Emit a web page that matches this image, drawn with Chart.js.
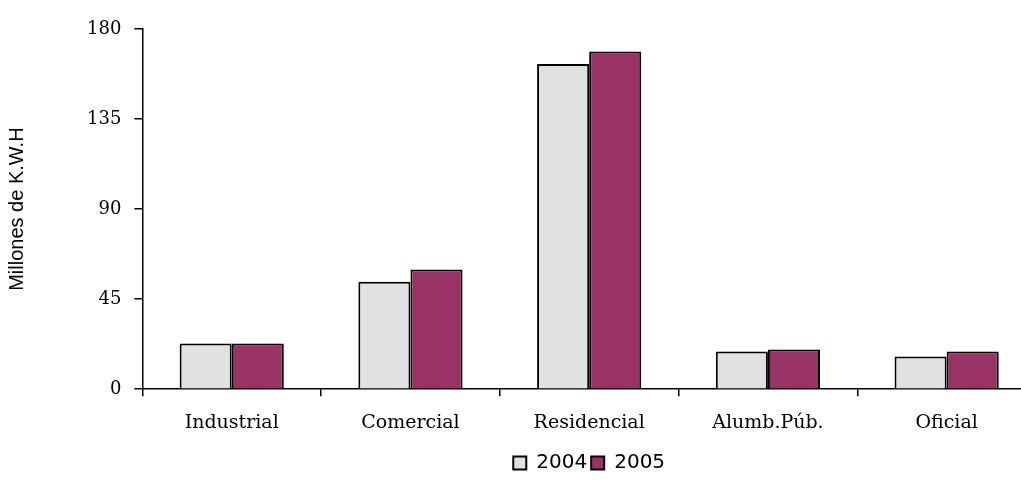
<!DOCTYPE html>
<html>
<head>
<meta charset="utf-8">
<script src="https://cdn.jsdelivr.net/npm/chart.js@4"></script>
<style>
  html, body { margin: 0; padding: 0; background: #fff; overflow: hidden; }
  #wrap { width: 1036px; height: 495px; }
</style>
</head>
<body>
<div id="wrap"><canvas id="myChart"></canvas></div>
<script>
const categories = ["Industrial", "Comercial", "Residencial", "Alumb.Púb.", "Oficial"];
const values2004 = [22.8, 53.7, 162.5, 18.8, 16.3];
const values2005 = [22.8, 59.8, 168.8, 19.8, 18.8];
const yTicks = [0, 45, 90, 135, 180];

const ctx = document.getElementById("myChart");

new Chart(ctx, {
  type: "bar",
  data: {
    labels: categories,
    datasets: [
      {
        label: "2004",
        data: values2004,
        backgroundColor: "#e1e1e1",
        borderColor: "#000",
        borderWidth: 2,
      },
      {
        label: "2005",
        data: values2005,
        backgroundColor: "#993366",
        borderColor: "#000",
        borderWidth: 2,
      },
    ],
  },
  options: {
    responsive: true,
    maintainAspectRatio: false,
    animation: false,
    categoryPercentage: 0.583,
    barPercentage: 1,
    layout: {
      padding: { top: 29, left: 5, right: 0, bottom: 12 },
    },
    scales: {
      x: {
        grid: {
          offset: true,
          drawOnChartArea: false,
          drawTicks: true,
          tickLength: 7,
          color: "#000",
          lineWidth: 1.5,
        },
        border: { color: "#000", width: 1.5 },
        ticks: {
          color: "#000",
          padding: 15,
          font: { family: "DejaVu Serif", size: 19 },
        },
      },
      y: {
        min: 0,
        max: 180,
        afterBuildTicks: (axis) => {
          axis.ticks = yTicks.map((v) => ({ value: v }));
        },
        grid: {
          drawOnChartArea: false,
          drawTicks: true,
          tickLength: 8,
          color: "#000",
          lineWidth: 1.5,
        },
        border: { color: "#000", width: 1.5 },
        ticks: {
          color: "#000",
          padding: 13,
          font: { family: "DejaVu Serif", size: 18 },
        },
        title: {
          display: true,
          text: "Millones de K.W.H",
          color: "#000",
          padding: { top: 0, bottom: 45 },
          font: { family: "Liberation Sans", size: 20 },
        },
      },
    },
    plugins: {
      legend: {
        position: "bottom",
        fullSize: false,
        labels: {
          color: "#000",
          boxWidth: 13,
          boxHeight: 13,
          padding: 4,
          font: { family: "DejaVu Sans", size: 20 },
        },
      },
      tooltip: { enabled: false },
    },
  },
});
</script>
</body>
</html>
